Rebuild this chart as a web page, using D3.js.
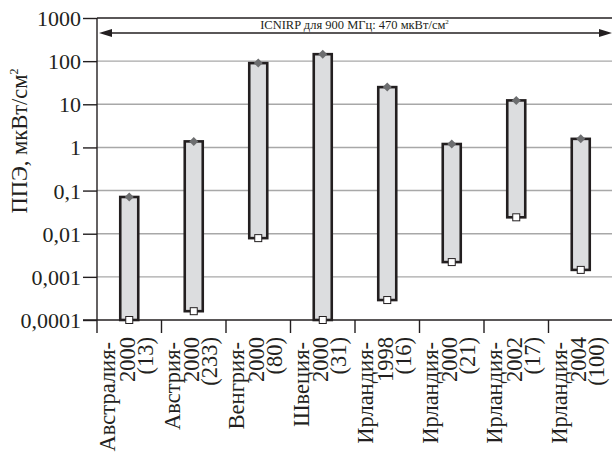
<!DOCTYPE html>
<html><head><meta charset="utf-8">
<script src="https://cdn.jsdelivr.net/npm/d3@7"></script>
<style>body{margin:0;background:#fff}svg{display:block}</style>
</head><body>
<svg id="c" width="612" height="453"></svg>
<script>
const categories = [
  ["Австралия-","2000","(13)"],
  ["Австрия-","2000","(233)"],
  ["Венгрия-","2000","(80)"],
  ["Швеция-","2000","(31)"],
  ["Ирландия-","1998","(16)"],
  ["Ирландия-","2000","(21)"],
  ["Ирландия-","2002","(17)"],
  ["Ирландия-","2004","(100)"]
];
const maxValues = [0.071, 1.38, 90, 145, 25, 1.2, 12.3, 1.58];
const minValues = [0.0001, 0.00016, 0.0079, 0.0001, 0.00029, 0.0022, 0.024, 0.00145];
const yTicks = [0.0001, 0.001, 0.01, 0.1, 1, 10, 100, 1000];
const yTickLabels = ["0,0001","0,001","0,01","0,1","1","10","100","1000"];
const limitLabel = "ICNIRP для 900 МГц: 470 мкВт/см";

const svg = d3.select("#c");
const font = "'Liberation Serif', 'DejaVu Serif', serif";
const L = 97, R = 613, T = 18, B = 320;
const keys = categories.map((c,i)=>i);
const x = d3.scaleBand().domain(keys).range([L, R]).padding(0);
const y = d3.scaleLog().domain([1e-4, 1e3]).range([B, T]);

// gridlines
svg.append("g").selectAll("line").data(yTicks.slice(1, -1)).join("line")
  .attr("x1", L).attr("x2", R).attr("y1", d=>y(d)).attr("y2", d=>y(d))
  .attr("stroke", "#a8a8a8").attr("stroke-width", 1.4);

// top line (1000)
svg.append("line").attr("x1", L).attr("x2", R).attr("y1", y(1000)).attr("y2", y(1000))
  .attr("stroke", "#231f20").attr("stroke-width", 1.4);

// Y axis
const yAxis = d3.axisLeft(y).tickValues(yTicks).tickSize(14).tickPadding(2)
  .tickFormat((d,i)=>yTickLabels[i]);
const gy = svg.append("g").attr("transform", `translate(${L},0)`).call(yAxis);
gy.select(".domain").remove();
gy.selectAll(".tick line").attr("stroke", "#231f20").attr("stroke-width", 1.4);
gy.selectAll(".tick text").attr("font-family", font).attr("font-size", 22).attr("fill", "#231f20")
  .attr("dy", "0.34em");
svg.append("line").attr("x1", L).attr("x2", L).attr("y1", T).attr("y2", B + 13)
  .attr("stroke", "#231f20").attr("stroke-width", 1.4);

// X axis
svg.append("line").attr("x1", L - 14).attr("x2", R).attr("y1", B).attr("y2", B)
  .attr("stroke", "#231f20").attr("stroke-width", 1.4);
svg.append("g").selectAll("line").data(keys.slice(1)).join("line")
  .attr("x1", d=>x(d)).attr("x2", d=>x(d)).attr("y1", B).attr("y2", B + 13)
  .attr("stroke", "#231f20").attr("stroke-width", 1.4);

// x labels
const lbl = svg.append("g").selectAll("g").data(keys).join("g")
  .attr("transform", d=>`translate(${x(d) + x.bandwidth()/2},337) rotate(-90)`);
const offs = [-14, 5.5, 23.5];
const ends = [-5, 0, 0];
[0,1,2].forEach(j=>{
  lbl.append("text").attr("x", ends[j]).attr("y", offs[j]).attr("text-anchor", "end")
    .attr("font-family", font).attr("font-size", 22.5).attr("fill", "#231f20")
    .text(d=>categories[d][j]);
});

// bars
const bw = 18;
svg.append("g").selectAll("rect").data(keys).join("rect")
  .attr("x", d=>x(d) + x.bandwidth()/2 - bw/2)
  .attr("width", bw)
  .attr("y", d=>y(maxValues[d]))
  .attr("height", d=>y(minValues[d]) - y(maxValues[d]))
  .attr("fill", "#dcdddf").attr("stroke", "#231f20").attr("stroke-width", 2.6);

// max markers (diamonds)
svg.append("g").selectAll("path").data(keys).join("path")
  .attr("transform", d=>`translate(${x(d) + x.bandwidth()/2},${y(maxValues[d])})`)
  .attr("d", "M0,-4.5L4.5,0L0,4.5L-4.5,0Z")
  .attr("fill", "#6d6e70");

// min markers (squares)
svg.append("g").selectAll("rect").data(keys).join("rect")
  .attr("x", d=>x(d) + x.bandwidth()/2 - 3.5)
  .attr("y", d=>y(minValues[d]) - 3.5)
  .attr("width", 7).attr("height", 7)
  .attr("fill", "#fff").attr("stroke", "#231f20").attr("stroke-width", 1);

// arrow
const ay = 33;
svg.append("line").attr("x1", L + 8).attr("x2", R - 10).attr("y1", ay).attr("y2", ay)
  .attr("stroke", "#231f20").attr("stroke-width", 1.4);
svg.append("path").attr("d", `M${L+2},${ay}L${L+15},${ay-4}L${L+15},${ay+4}Z`).attr("fill", "#231f20");
svg.append("path").attr("d", `M${R-1},${ay}L${R-14},${ay-4}L${R-14},${ay+4}Z`).attr("fill", "#231f20");
const lt = svg.append("text").attr("x", (L + R)/2 - 0.5).attr("y", 29).attr("text-anchor", "middle")
  .attr("font-family", font).attr("font-size", 12.5).attr("fill", "#231f20");
lt.append("tspan").text(limitLabel);
lt.append("tspan").attr("font-size", 7).attr("dy", -5).text("2");

// y title
const yt = svg.append("text").attr("transform", "translate(27,141) rotate(-90)")
  .attr("text-anchor", "middle").attr("font-family", font).attr("font-size", 22.5).attr("fill", "#231f20");
yt.append("tspan").text("ППЭ, мкВт/см");
yt.append("tspan").attr("font-size", 12).attr("dy", -9).text("2");
</script>
</body></html>
